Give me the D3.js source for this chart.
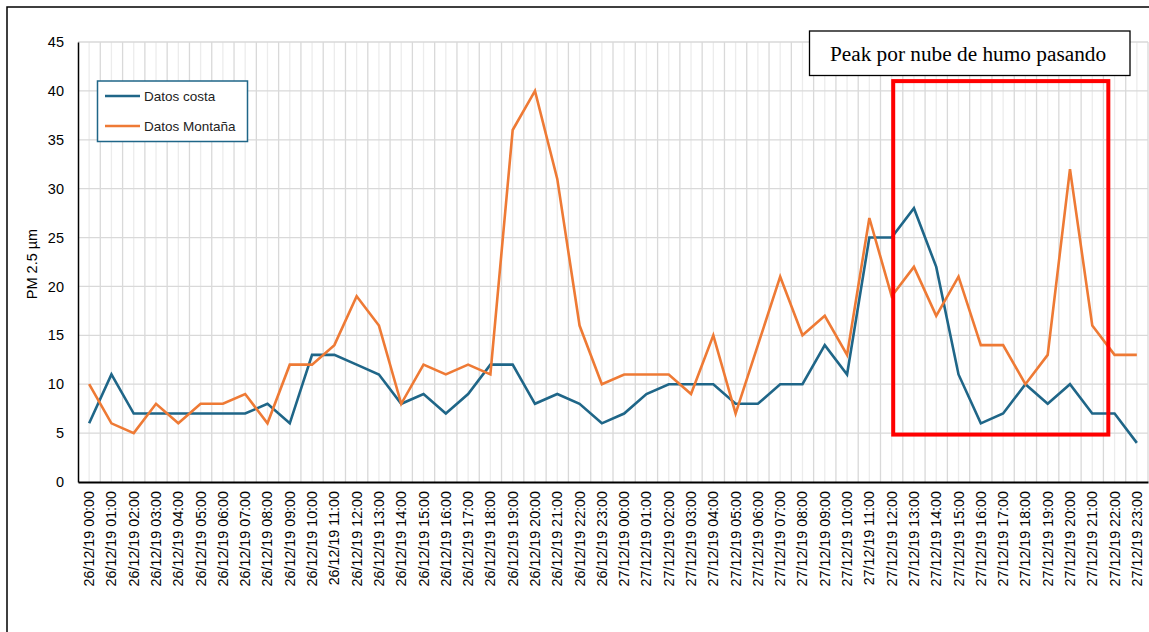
<!DOCTYPE html>
<html>
<head>
<meta charset="utf-8">
<script src="https://cdn.jsdelivr.net/npm/d3@7"></script>
<style>
html,body{margin:0;padding:0;background:#fff;}
svg{display:block;}
</style>
</head>
<body>
<svg id="chart" width="1149" height="632"></svg>
<script>
const categories = [
"26/12/19 00:00","26/12/19 01:00","26/12/19 02:00","26/12/19 03:00","26/12/19 04:00","26/12/19 05:00",
"26/12/19 06:00","26/12/19 07:00","26/12/19 08:00","26/12/19 09:00","26/12/19 10:00","26/12/19 11:00",
"26/12/19 12:00","26/12/19 13:00","26/12/19 14:00","26/12/19 15:00","26/12/19 16:00","26/12/19 17:00",
"26/12/19 18:00","26/12/19 19:00","26/12/19 20:00","26/12/19 21:00","26/12/19 22:00","26/12/19 23:00",
"27/12/19 00:00","27/12/19 01:00","27/12/19 02:00","27/12/19 03:00","27/12/19 04:00","27/12/19 05:00",
"27/12/19 06:00","27/12/19 07:00","27/12/19 08:00","27/12/19 09:00","27/12/19 10:00","27/12/19 11:00",
"27/12/19 12:00","27/12/19 13:00","27/12/19 14:00","27/12/19 15:00","27/12/19 16:00","27/12/19 17:00",
"27/12/19 18:00","27/12/19 19:00","27/12/19 20:00","27/12/19 21:00","27/12/19 22:00","27/12/19 23:00"
];
const datosCosta = [6,11,7,7,7,7,7,7,8,6,13,13,12,11,8,9,7,9,12,12,8,9,8,6,
                    7,9,10,10,10,8,8,10,10,14,11,25,25,28,22,11,6,7,10,8,10,7,7,4];
const datosMontana = [10,6,5,8,6,8,8,9,6,12,12,14,19,16,8,12,11,12,11,36,40,31,16,10,
                      11,11,11,9,15,7,14,21,15,17,13,27,19,22,17,21,14,14,10,13,32,16,13,13];
const yTicks = [0,5,10,15,20,25,30,35,40,45];
const seriesNames = ["Datos costa","Datos Montaña"];
const annotationText = "Peak por nube de humo pasando";
// highlighted region in data terms: category index range and value range
const highlightFrom = 36.07, highlightTo = 45.72, highlightLow = 4.85, highlightHigh = 41;

const svg = d3.select("#chart");
const plot = {left:78, right:1148, top:42, bottom:482};

// outer frame (only top and left visible)
svg.append("rect").attr("x",7).attr("y",7).attr("width",1160).attr("height",660)
  .attr("fill","none").attr("stroke","#000").attr("stroke-width",1.5);

const x = d3.scaleBand().domain(d3.range(categories.length)).range([plot.left, plot.right]).padding(0);
const xc = i => x(i) + x.bandwidth()/2;
const y = d3.scaleLinear().domain([0,45]).range([plot.bottom, plot.top]);

const g = svg.append("g");

// minor vertical gridlines at category centres
g.append("g").selectAll("line").data(d3.range(categories.length)).join("line")
  .attr("x1", d=>xc(d)).attr("x2", d=>xc(d)).attr("y1", plot.top).attr("y2", plot.bottom)
  .attr("stroke","#ececec").attr("stroke-width",1.3);
// major vertical gridlines at category boundaries
g.append("g").selectAll("line").data(d3.range(1, categories.length+1)).join("line")
  .attr("x1", d=>x.step()*d + plot.left).attr("x2", d=>x.step()*d + plot.left)
  .attr("y1", plot.top).attr("y2", plot.bottom)
  .attr("stroke","#d9d9d9").attr("stroke-width",1.3);
// horizontal gridlines
g.append("g").selectAll("line").data(yTicks.slice(1)).join("line")
  .attr("x1", plot.left).attr("x2", plot.right).attr("y1", d=>y(d)).attr("y2", d=>y(d))
  .attr("stroke","#d9d9d9").attr("stroke-width",1.3);

// Y axis
const yAxis = d3.axisLeft(y).tickValues(yTicks).tickSize(0).tickPadding(14);
const ya = svg.append("g").attr("transform",`translate(${plot.left},0)`).call(yAxis);
ya.select(".domain").attr("stroke","#000").attr("stroke-width",1.5);
ya.selectAll("text").attr("font-family","Liberation Sans, Arial, sans-serif").attr("font-size","14.5px").attr("fill","#000");

// X axis
const xAxis = d3.axisBottom(x).tickFormat(i=>categories[i]).tickSize(0).tickPadding(0);
const xa = svg.append("g").attr("transform",`translate(0,${plot.bottom})`).call(xAxis);
xa.select(".domain").attr("stroke","#000").attr("stroke-width",2);
xa.selectAll("text")
  .attr("font-family","Liberation Sans, Arial, sans-serif").attr("font-size","14.3px").attr("fill","#000")
  .attr("transform","rotate(-90)").attr("text-anchor","end").attr("dy","0.35em").attr("x",-9).attr("y",0);

// Y title
svg.append("text").attr("transform","translate(37,264) rotate(-90)")
  .attr("text-anchor","middle").attr("font-family","Liberation Sans, Arial, sans-serif")
  .attr("font-size","14.5px").text("PM 2.5 µm");

// lines
const line = d3.line().x((d,i)=>xc(i)).y(d=>y(d));
const colors = ["#1f6688","#ee7a35"];
[datosCosta, datosMontana].forEach((s,k)=>{
  svg.append("path").datum(s).attr("d",line).attr("fill","none")
    .attr("stroke",colors[k]).attr("stroke-width",2.6).attr("stroke-linejoin","miter");
});

// legend
const lg = svg.append("g");
lg.append("rect").attr("x",97.5).attr("y",81).attr("width",150).attr("height",60.5)
  .attr("fill","#fff").attr("stroke","#1f6688").attr("stroke-width",1.5);
seriesNames.forEach((n,k)=>{
  const yy = 96 + k*30;
  lg.append("line").attr("x1",105).attr("x2",140).attr("y1",yy).attr("y2",yy)
    .attr("stroke",colors[k]).attr("stroke-width",2.6);
  lg.append("text").attr("x",144).attr("y",yy).attr("dy","0.35em")
    .attr("font-family","Liberation Sans, Arial, sans-serif").attr("font-size","13.5px").attr("fill","#222").text(n);
});

// highlight rectangle (red)
svg.append("rect")
  .attr("x", xc(0) + highlightFrom*x.step()).attr("y", y(highlightHigh))
  .attr("width", (highlightTo-highlightFrom)*x.step()).attr("height", y(highlightLow)-y(highlightHigh))
  .attr("fill","none").attr("stroke","#ff0000").attr("stroke-width",4);

// annotation box
svg.append("rect").attr("x",809.5).attr("y",31).attr("width",320.5).attr("height",44.5)
  .attr("fill","#fff").attr("stroke","#000").attr("stroke-width",1.3);
svg.append("text").attr("x",968).attr("y",61).attr("text-anchor","middle")
  .attr("font-family","Liberation Serif, Times New Roman, serif").attr("font-size","21.3px").attr("fill","#000")
  .text(annotationText);
</script>
</body>
</html>
